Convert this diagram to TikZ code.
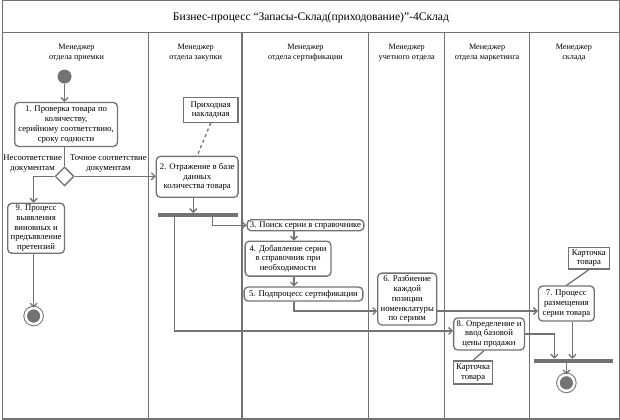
\documentclass[tikz,border=0pt]{standalone}
\usepackage{fontspec}
\setmainfont{Liberation Serif}
\usetikzlibrary{arrows.meta,shapes.geometric}

\definecolor{linegray}{gray}{0.45}
\newcommand{\actfont}{\fontsize{8.7}{9.8}\selectfont}
\newcommand{\lanefont}{\fontsize{8.2}{10.5}\selectfont}

\begin{document}
\begin{tikzpicture}[x=1pt,y=-1pt,
    line/.style={draw=linegray,line width=1.3pt},
    arr/.style={line,-{Straight Barb[length=3.5pt,width=7pt]}},
    act/.style={draw=linegray,line width=1.3pt,rounded corners=4pt,fill=white,align=center,inner sep=0.5pt,font=\actfont},
    doc/.style={draw=linegray,line width=1.3pt,fill=white,align=center,inner sep=0.5pt,font=\actfont},
    bar/.style={fill=linegray,inner sep=0pt,minimum height=4pt},
    lane/.style={align=center,font=\lanefont},
    final/.style={circle,fill=linegray,draw=linegray,double=white,double distance=2.5pt,line width=1pt,minimum size=16pt,inner sep=0pt}]

  % frame, title and lanes
  \draw[linegray,line width=1.5pt] (1,1) rectangle (619,420);
  \draw[line] (1,33) -- (619,33);
  \foreach \x in {147,241,368,444,529} {
      \draw[line] (\x,33) -- (\x,420);
    }
  \node[font=\fontsize{11.6}{13}\selectfont] (title) at (310,18) {Бизнес-процесс “Запасы-Склад(приходование)”-4Склад};
  \node[lane] (h1) at (75,53) {Менеджер\\отдела приемки};
  \node[lane] (h2) at (194.5,53) {Менеджер\\отдела закупки};
  \node[lane] (h3) at (304.5,53) {Менеджер\\отдела сертификации};
  \node[lane] (h4) at (406,53) {Менеджер\\учетного отдела};
  \node[lane] (h5) at (486.5,53) {Менеджер\\отдела маркетинга};
  \node[lane] (h6) at (573.5,53) {Менеджер\\склада};

  % activities
  \node[circle,fill=linegray,minimum size=14pt,inner sep=0pt] (start) at (63,77) {};
  \node[act,minimum width=103pt,minimum height=44pt] (b1) at (64.5,125) {1. Проверка товара по\\количеству,\\серийному соответствию,\\сроку годности};
  \node[diamond,draw=linegray,line width=1.3pt,fill=white,minimum width=19pt,minimum height=19pt,inner sep=0pt] (dec) at (63,177) {};
  \node[font=\actfont,align=center] (lno) at (31,164) {Несоответствие\\документам};
  \node[font=\actfont,align=center] (lyes) at (107,164) {Точное соответствие\\документам};
  \node[act,minimum width=57pt,minimum height=50pt] (b9) at (34.5,229) {9. Процесс\\выявления\\виновных и\\предъявление\\претензий};
  \node[final] (end1) at (32,317) {};

  \node[doc,minimum width=55pt,minimum height=25pt] (inv) at (209.5,110.5) {Приходная\\накладная};
  \node[act,minimum width=82pt,minimum height=41pt] (b2) at (196,177.5) {2. Отражение в базе\\данных\\количества товара};
  \node[bar,minimum width=80pt] (fork) at (197,216) {};

  \node[act,minimum width=117pt,minimum height=11pt] (b3) at (304.5,226) {3. Поиск серии в справочнике};
  \node[act,minimum width=86pt,minimum height=35pt] (b4) at (287,259.5) {4. Добавление серии\\в справочник при\\необходимости};
  \node[act,minimum width=119pt,minimum height=14pt] (b5) at (302.5,295) {5. Подпроцесс сертификации};
  \coordinate (c34) at (293,0);

  \node[act,minimum width=59pt,minimum height=52pt] (b6) at (406.5,300) {6. Разбиение\\каждой\\позиции\\номенклатуры\\по сериям};

  \node[act,minimum width=71pt,minimum height=32pt] (b8) at (488.5,335) {8. Определение и\\ввод базовой\\цены продажи};
  \node[doc,minimum width=39pt,minimum height=23pt] (card2) at (472.5,373.5) {Карточка\\товара};

  \node[doc,minimum width=41pt,minimum height=22pt] (card1) at (588.5,259) {Карточка\\товара};
  \node[act,minimum width=56pt,minimum height=35pt] (b7) at (566,304.5) {7. Процесс\\размещения\\серии товара};
  \node[bar,minimum width=79pt] (join) at (573.5,362) {};
  \node[final] (end2) at (566,384) {};

  % flows
  \draw[arr] (start) -- (start |- b1.north);
  \draw[line] (b1.south -| dec) -- (dec.north);
  \draw[arr] (dec.east) -- (dec.east -| b2.west);
  \draw[arr] (dec.west) -| (b9.north -| end1);
  \draw[arr] (b9.south -| end1) -- (end1.north);
  \draw[line,dashed] (inv.south) -- (b2.north);
  \draw[arr] (b2.south -| 192,0) -- (fork.north -| 192,0);
  \draw[arr] ([xshift=14pt]fork.south) |- (b3.west);
  \draw[arr] ([xshift=-24pt]fork.south) |- ([yshift=3pt]b8.west);
  \draw[arr] (b3.south -| c34) -- (b4.north -| c34);
  \draw[arr] (b4.south -| c34) -- (b5.north -| c34);
  \draw[arr] (b5.south -| c34) |- ([yshift=-12pt]b6.west);
  \draw[arr] ([yshift=-12pt]b6.east) -- ([yshift=-12pt]b6.east -| b7.west);
  \draw[line] (card1.south) -- (b7.north);
  \draw[line] (card2.north) -- ([xshift=-5pt]b8.south);
  \draw[arr] (b8.east) -| ([xshift=-19.5pt]join.north);
  \draw[arr] ([xshift=6pt]b7.south) -- ([xshift=6pt]b7.south |- join.north);
  \draw[arr] (join.south -| end2) -- (end2.north);
\end{tikzpicture}
\end{document}
